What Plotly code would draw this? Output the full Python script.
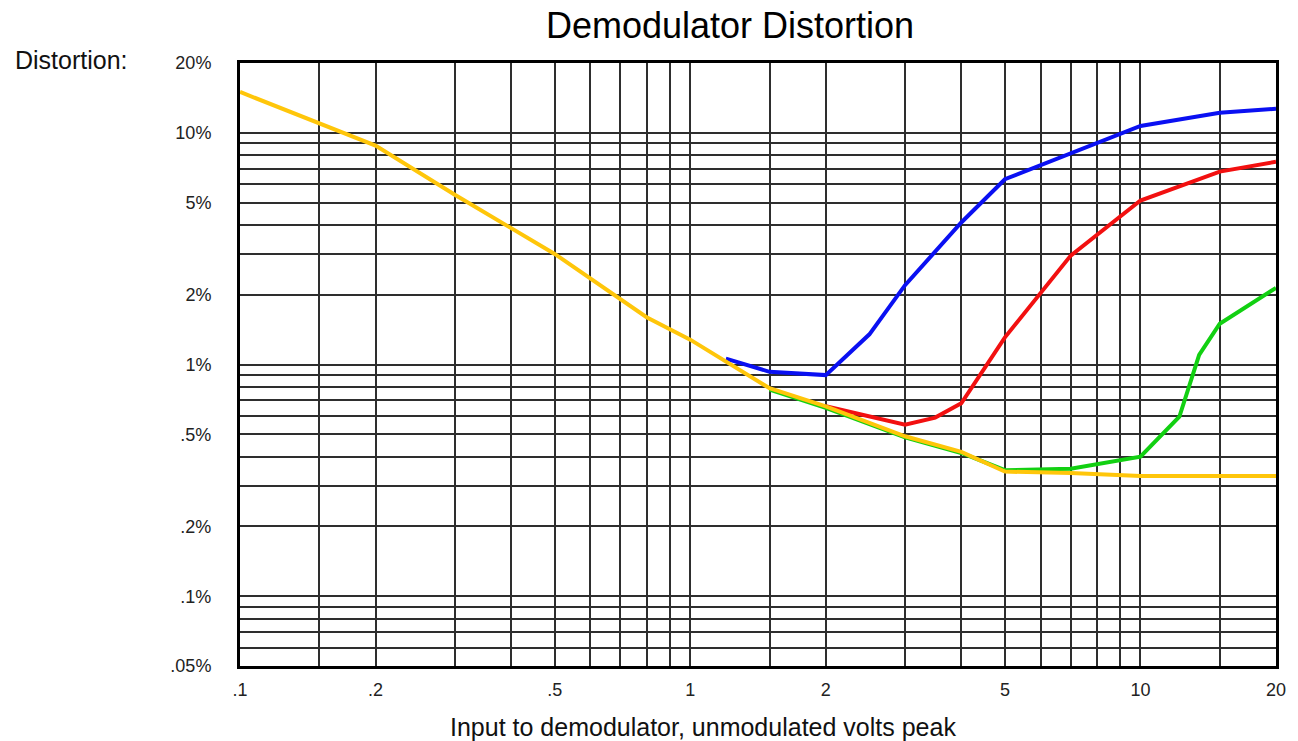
import plotly.graph_objects as go

# ---------------- data ----------------
# Input volts peak (x) and distortion in percent (y)
yellow_x = [0.1, 0.15, 0.2, 0.3, 0.5, 0.8, 1.0, 1.5, 2.0, 3.0, 4.0, 5.0, 7.0, 10.0, 20.0]
yellow_y = [15.0, 11.0, 8.8, 5.4, 3.0, 1.6, 1.28, 0.79, 0.66, 0.49, 0.42, 0.345, 0.34, 0.33, 0.33]

blue_x = [1.2, 1.5, 2.0, 2.5, 3.0, 4.0, 5.0, 10.0, 15.0, 20.0]
blue_y = [1.06, 0.93, 0.90, 1.35, 2.2, 4.1, 6.3, 10.7, 12.2, 12.7]

red_x = [2.0, 3.0, 3.5, 4.0, 5.0, 7.0, 10.0, 15.0, 20.0]
red_y = [0.66, 0.55, 0.59, 0.68, 1.31, 2.95, 5.1, 6.8, 7.5]

green_x = [1.5, 2.0, 3.0, 4.0, 5.0, 7.0, 10.0, 12.2, 13.5, 15.0, 20.0]
green_y = [0.78, 0.65, 0.485, 0.415, 0.35, 0.355, 0.40, 0.595, 1.10, 1.50, 2.14]

# grid positions and tick labels
x_grid = [0.1, 0.15, 0.2, 0.3, 0.4, 0.5, 0.6, 0.7, 0.8, 0.9, 1, 1.5, 2, 3, 4, 5, 6, 7, 8, 9, 10, 15, 20]
x_labels = {0.1: ".1", 0.2: ".2", 0.5: ".5", 1: "1", 2: "2", 5: "5", 10: "10", 20: "20"}
y_grid = [0.05, 0.06, 0.07, 0.08, 0.09, 0.1, 0.2, 0.3, 0.4, 0.5, 0.6, 0.7, 0.8, 0.9,
          1, 2, 3, 4, 5, 6, 7, 8, 9, 10, 20]
y_labels = {0.05: ".05%", 0.1: ".1%", 0.2: ".2%", 0.5: ".5%", 1: "1%", 2: "2%",
            5: "5%", 10: "10%", 20: "20%"}

title_text = "Demodulator Distortion"
x_title = "Input to demodulator, unmodulated volts peak"
y_title = "Distortion:"

FONT = "Arial, Liberation Sans, sans-serif"

fig = go.Figure()
series = [
    (blue_x, blue_y, "#0A10F2"),
    (red_x, red_y, "#F21010"),
    (green_x, green_y, "#12D012"),
    (yellow_x, yellow_y, "#FFC60A"),
]
for xs, ys, col in series:
    fig.add_trace(go.Scatter(x=xs, y=ys, mode="lines",
                             line=dict(color=col, width=4),
                             showlegend=False, hoverinfo="x+y"))

fig.update_layout(
    width=1298, height=741,
    margin=dict(l=240, r=17, t=63, b=75),
    paper_bgcolor="white", plot_bgcolor="white",
    font=dict(family=FONT, color="#222"),
    title=dict(text=title_text, x=730 / 1298, xanchor="center", xref="container",
               y=1 - 25 / 741, yanchor="middle", yref="container",
               font=dict(size=36, color="#000", family=FONT)),
    showlegend=False,
)

fig.update_xaxes(
    type="log", range=[-1, 1.30103],
    tickmode="array", tickvals=x_grid,
    ticktext=[x_labels.get(v, "") for v in x_grid],
    tickfont=dict(size=18, color="#222"),
    showgrid=True, gridcolor="#2e2e2e", gridwidth=1.5,
    showline=True, linecolor="black", linewidth=3, mirror=True,
    ticks="", ticklabelstandoff=5, zeroline=False,
)
fig.update_yaxes(
    type="log", range=[-1.30103, 1.30103],
    tickmode="array", tickvals=y_grid,
    ticktext=[y_labels.get(v, "") for v in y_grid],
    tickfont=dict(size=18, color="#222"),
    showgrid=True, gridcolor="#2e2e2e", gridwidth=1.5,
    showline=True, linecolor="black", linewidth=3, mirror=True,
    ticks="", ticklabelstandoff=22, zeroline=False,
)

fig.add_annotation(text=y_title, xref="paper", yref="paper",
                   x=(12 - 240) / 1040, y=(666 - 60) / 603,
                   xanchor="left", yanchor="middle", showarrow=False,
                   font=dict(size=25, color="#111", family=FONT))
fig.add_annotation(text=x_title, xref="paper", yref="paper",
                   x=(705 - 240) / 1040, y=(666 - 727) / 603,
                   xanchor="center", yanchor="middle", showarrow=False,
                   font=dict(size=25, color="#111", family=FONT))

fig.write_html("out.html", config={"displayModeBar": False},
               post_script="document.body.style.margin='0';")
